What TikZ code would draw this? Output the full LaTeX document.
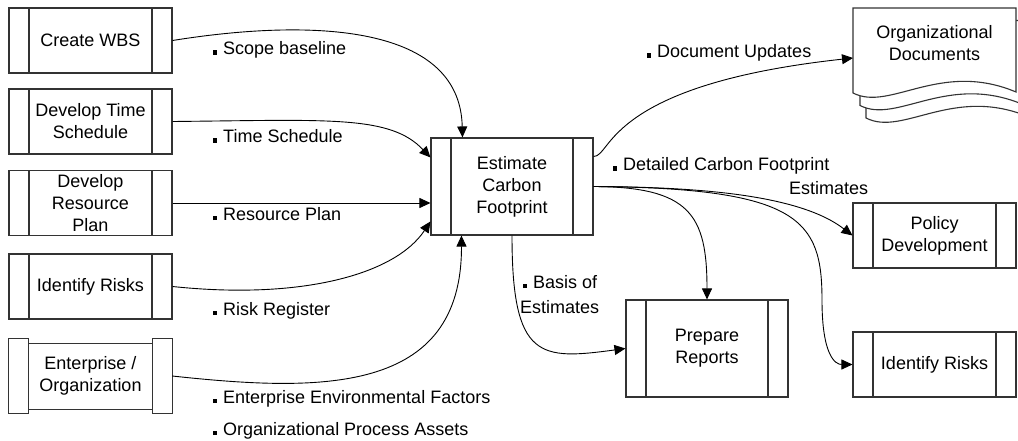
\documentclass[tikz,border=0pt]{standalone}
\usepackage{fontspec}
\setmainfont{Liberation Sans}
\usetikzlibrary{arrows.meta,calc}
\definecolor{boxc}{HTML}{333333}
\newcommand\bul{\rule{3.5pt}{4.5pt}\hspace{6.5pt}}
\tikzset{
  txt/.style={font=\fontsize{18pt}{22pt}\selectfont, align=center, inner sep=0pt},
  proc/.style={txt, draw=boxc, line width=1.1pt, minimum width=163pt, minimum height=65pt,
    path picture={\draw[boxc, line width=1.1pt]
      ([xshift=20pt]path picture bounding box.north west) -- ([xshift=20pt]path picture bounding box.south west)
      ([xshift=-20pt]path picture bounding box.north east) -- ([xshift=-20pt]path picture bounding box.south east);}},
  bigproc/.style={proc, minimum width=162pt, minimum height=97pt},
  lbl/.style={font=\fontsize{18pt}{22pt}\selectfont, inner sep=0pt, anchor=base west},
  conn/.style={draw=black, line width=0.9pt, -{Triangle[length=11pt,width=10pt]}},
  page/.style={draw=boxc, line width=1.1pt, fill=white},
}
\begin{document}
\begin{tikzpicture}[x=1pt,y=-1pt]
\useasboundingbox (0,0) rectangle (1018,441);
\clip (0,0) rectangle (1018,441);

% left process boxes
\node[proc] (wbs) at (90.5,40.5) {Create WBS};
\node[proc] (tim) at (90.5,121.5) {Develop Time\\Schedule};
\node[proc] (res) at (90.5,203) {Develop\\Resource\\Plan};
\node[proc] (rsk) at (90.5,286.5) {Identify Risks};
\node[txt, minimum width=163pt, minimum height=74pt] (ent) at (90.5,376) {Enterprise /\\Organization};
\draw[boxc, line width=1.1pt] (ent.north west) rectangle ([xshift=20pt]ent.south west);
\draw[boxc, line width=1.1pt] (ent.north east) rectangle ([xshift=-20pt]ent.south east);
\draw[boxc, line width=1.1pt] ([xshift=20pt,yshift=-5pt]ent.north west) -- ([xshift=-20pt,yshift=-5pt]ent.north east);
\draw[boxc, line width=1.1pt] ([xshift=20pt,yshift=4pt]ent.south west) -- ([xshift=-20pt,yshift=4pt]ent.south east);

% central and right boxes
\node[bigproc] (est) at (512,186.5) {Estimate\\Carbon\\Footprint};
\node[bigproc] (prep) at (707,348.5) {Prepare\\Reports};
\node[proc] (pol) at (934.5,235.5) {Policy\\Development};
\node[proc] (ir2) at (934.5,364.5) {Identify Risks};

% organizational documents (stacked pages)
\foreach \dx/\dy in {13/25, 7/12.5, 0/0}{
  \draw[page] (853+\dx,8+\dy) -- (1016+\dx,8+\dy) -- (1016+\dx,92+\dy)
    .. controls (940+\dx,60+\dy) and (890+\dx,112+\dy) .. (853+\dx,93+\dy) -- cycle;
}
\node[txt] (doc) at (934.5,43.5) {Organizational\\Documents};
\coordinate (docin) at (853,58);

% inputs
\draw[conn] (wbs.east) .. controls (300,20) and (460,20) .. ($(est.north west)+(32,0)$);
\draw[conn] (tim.east) .. controls (330,120) and (390,115) .. ($(est.north west)+(0,20)$);
\draw[conn] (res.east) -- (res.east -| est.west);
\draw[conn] (rsk.east) .. controls (300,300) and (395,275) .. ($(est.north west)+(0,84)$);
\draw[conn] (ent.east) .. controls (320,392) and (462,395) .. ($(est.south west)+(31,0)$);

% outputs
\draw[conn] ($(est.north east)+(0,19)$) .. controls (612,157) and (605,85) .. (docin);
\draw[conn] (est.east) .. controls (700,187) and (800,195) .. (pol.west);
\draw[conn] (est.east) .. controls (800,188) and (822,220) .. (822,300)
   .. controls (822,355) and (835,364.5) .. (ir2.west);
\draw[conn] (est.east) .. controls (690,187) and (707,215) .. (prep.north);
\draw[conn] (est.south) .. controls (512,360) and (540,360) .. (prep.west);

% labels
\node[lbl] (l1) at (213,55) {\bul Scope baseline};
\node[lbl] (l2) at (213,143) {\bul Time Schedule};
\node[lbl] (l3) at (213,220) {\bul Resource Plan};
\node[lbl] (l4) at (213,315) {\bul Risk Register};
\node[lbl] (l5) at (213,403) {\bul Enterprise Environmental Factors};
\node[lbl] (l6) at (213,435) {\bul Organizational Process Assets};
\node[lbl] (l7) at (647,58) {\bul Document Updates};
\node[lbl] (l8) at (613,171) {\bul Detailed Carbon Footprint};
\node[lbl] (l9) at (789,195) {Estimates};
\node[lbl] (l10) at (523,288) {\bul Basis of};
\node[lbl] (l11) at (520,313) {Estimates};
\end{tikzpicture}
\end{document}
